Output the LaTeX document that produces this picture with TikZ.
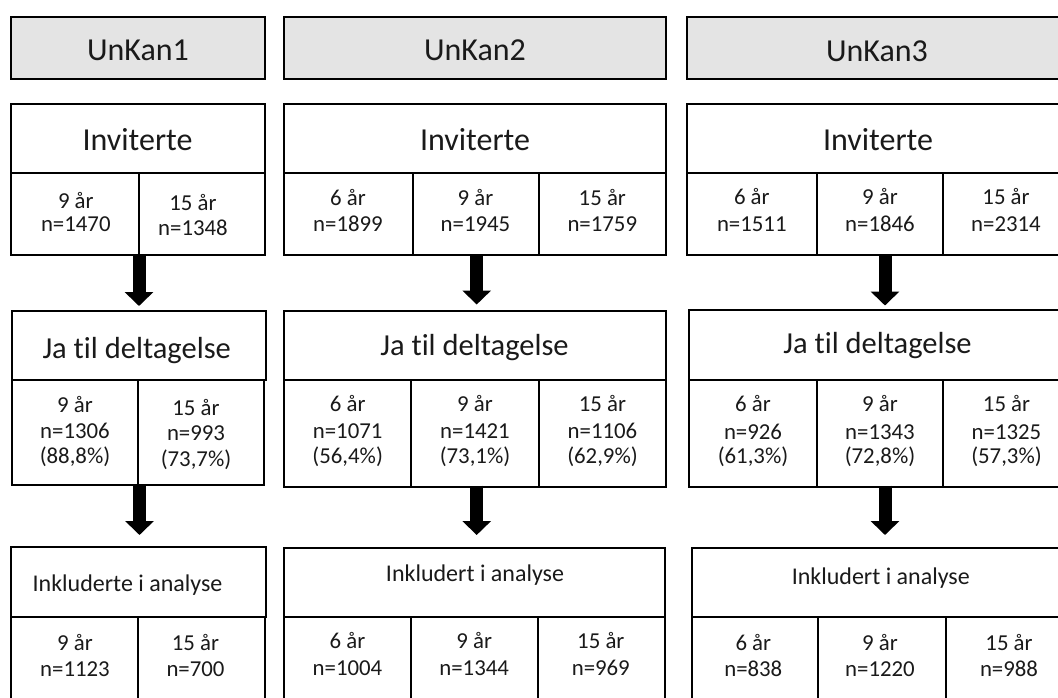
\documentclass[tikz,border=0pt]{standalone}
\usepackage{fontspec}
\setmainfont{Carlito}[Ligatures=NoCommon]
\usetikzlibrary{arrows.meta}
\definecolor{hdr}{RGB}{228,228,228}
\definecolor{ink}{RGB}{26,26,26}
\newcommand\rbox[6][]{\node[bx,#1,minimum width={(#5)-(#3)},minimum height={(#6)-(#4)}] (#2) at ({((#3)+(#5))/2},{((#4)+(#6))/2}) {};}
\newcommand\jatxt{Ja t\kern0pt il deltagelse}
\tikzset{
  bx/.style={draw=black,line width=2pt,inner sep=0pt,outer sep=0pt,fill=white},
  hbx/.style={fill=hdr},
  ht/.style={anchor=base,inner sep=0pt,text=ink,font=\fontsize{32}{38}\selectfont},
  tt/.style={anchor=base,inner sep=0pt,text=ink,font=\fontsize{32}{38}\selectfont},
  jt/.style={anchor=base,inner sep=0pt,text=ink,font=\fontsize{30.5}{36}\selectfont},
  it/.style={anchor=base,inner sep=0pt,text=ink,font=\fontsize{24}{28}\selectfont},
  ct/.style={anchor=base,inner sep=0pt,text=ink,font=\fontsize{22.8}{27}\selectfont},
  bigarrow/.style={draw=black,line width=13pt,-{Triangle[width=28pt,length=14pt]}}
}
\begin{document}
\begin{tikzpicture}[x=1pt,y=-1pt]
\useasboundingbox (0,0) rectangle (1058,697);
% headers
\rbox[hbx]{h1}{11}{17}{265}{79}
\rbox[hbx]{h2}{284}{17}{666}{79}
\rbox[hbx]{h3}{687}{17}{1069}{79}
\node[ht] (h1t) at (138,60.7) {UnKan1};
\node[ht] (h2t) at (475,60.7) {UnKan2};
\node[ht] (h3t) at (877,61.2) {UnKan3};
% Inviterte
\rbox{i1t}{11}{104}{265}{173}
\rbox{i1a}{11}{173}{139}{255}
\rbox{i1b}{139}{173}{265}{255}
\rbox{i2t}{284}{104}{666}{173}
\rbox{i2a}{284}{173}{412.7}{255}
\rbox{i2b}{412.7}{173}{539.3}{255}
\rbox{i2c}{539.3}{173}{666}{255}
\rbox{i3t}{687}{104}{1069}{173}
\rbox{i3a}{687}{173}{816.7}{255}
\rbox{i3b}{816.7}{173}{943.3}{255}
\rbox{i3c}{943.3}{173}{1069}{255}
\node[tt] (i1l) at (137.5,150) {Inviterte};
\node[tt] (i2l) at (475,150) {Inviterte};
\node[tt] (i3l) at (878,150.5) {Inviterte};
\node[ct] (i1a1) at (75.8,208.3) {9 år};
\node[ct] (i1a2) at (75.8,231.7) {n=1470};
\node[ct] (i1b1) at (193,210.7) {15 år};
\node[ct] (i1b2) at (193,235) {n=1348};
\node[ct] (i2a1) at (348,205.5) {6 år};
\node[ct] (i2a2) at (348,231.5) {n=1899};
\node[ct] (i2b1) at (475.5,205.5) {9 år};
\node[ct] (i2b2) at (475.5,231.5) {n=1945};
\node[ct] (i2c1) at (602.3,205.5) {15 år};
\node[ct] (i2c2) at (602.3,231.5) {n=1759};
\node[ct] (i3a1) at (751.8,204.5) {6 år};
\node[ct] (i3a2) at (751.8,231.5) {n=1511};
\node[ct] (i3b1) at (880,204.5) {9 år};
\node[ct] (i3b2) at (880,231.5) {n=1846};
\node[ct] (i3c1) at (1006,204.5) {15 år};
\node[ct] (i3c2) at (1006,231.5) {n=2314};
% Ja til deltagelse
\rbox{j1t}{11.5}{310.5}{265.5}{380}
\rbox{j1a}{11.5}{380}{137.7}{485}
\rbox{j1b}{137.7}{380}{263.5}{485}
\rbox{j2t}{284}{310.7}{666}{380}
\rbox{j2a}{284}{380}{411.3}{486.7}
\rbox{j2b}{411.3}{380}{539}{486.7}
\rbox{j2c}{539}{380}{666}{486.7}
\rbox{j3t}{689.3}{310}{1070}{379.5}
\rbox{j3a}{689.3}{379.5}{816.7}{486.7}
\rbox{j3b}{816.7}{379.5}{943.3}{486.7}
\rbox{j3c}{943.3}{379.5}{1070}{486.7}
\node[jt] (j1l) at (136.7,358) {\jatxt};
\node[jt] (j2l) at (474.5,355) {\jatxt};
\node[jt] (j3l) at (877.5,353.5) {\jatxt};
\node[ct] (j1a1) at (75,412.7) {9 år};
\node[ct] (j1a2) at (75,438.3) {n=1306};
\node[ct] (j1a3) at (75,463.3) {(88,8\%)};
\node[ct] (j1b1) at (196,415) {15 år};
\node[ct] (j1b2) at (196,440.5) {n=993};
\node[ct] (j1b3) at (196,466.5) {(73,7\%)};
\node[ct] (j2a1) at (347.7,411.7) {6 år};
\node[ct] (j2a2) at (347.7,438) {n=1071};
\node[ct] (j2a3) at (347.7,463) {(56,4\%)};
\node[ct] (j2b1) at (475,411.7) {9 år};
\node[ct] (j2b2) at (475,438) {n=1421};
\node[ct] (j2b3) at (475,463) {(73,1\%)};
\node[ct] (j2c1) at (602.5,411.7) {15 år};
\node[ct] (j2c2) at (602.5,438) {n=1106};
\node[ct] (j2c3) at (602.5,463) {(62,9\%)};
\node[ct] (j3a1) at (753,411.7) {6 år};
\node[ct] (j3a2) at (753,439) {n=926};
\node[ct] (j3a3) at (753,463) {(61,3\%)};
\node[ct] (j3b1) at (880,411.7) {9 år};
\node[ct] (j3b2) at (880,439) {n=1343};
\node[ct] (j3b3) at (880,463) {(72,8\%)};
\node[ct] (j3c1) at (1006.5,411.7) {15 år};
\node[ct] (j3c2) at (1006.5,439) {n=1325};
\node[ct] (j3c3) at (1006.5,463) {(57,3\%)};
% Inkludert i analyse
\rbox{k1t}{11}{547.3}{265.5}{616.7}
\rbox{k1a}{11}{616.7}{137.7}{712}
\rbox{k1b}{137.7}{616.7}{264.5}{712}
\rbox{k2t}{284}{548.3}{665}{616.7}
\rbox{k2a}{284}{616.7}{410.7}{712}
\rbox{k2b}{410.7}{616.7}{538.3}{712}
\rbox{k2c}{538.3}{616.7}{665}{712}
\rbox{k3t}{691.7}{548}{1072}{616.7}
\rbox{k3a}{691.7}{616.7}{817.7}{712}
\rbox{k3b}{817.7}{616.7}{945.7}{712}
\rbox{k3c}{945.7}{616.7}{1072}{712}
\node[it] (k1l) at (127.5,591.7) {Inkluderte i analyse};
\node[it] (k2l) at (475,581.7) {Inkludert i analyse};
\node[it] (k3l) at (880.8,584) {Inkludert i analyse};
\node[ct] (k1a1) at (75,650) {9 år};
\node[ct] (k1a2) at (75,676) {n=1123};
\node[ct] (k1b1) at (195.5,650) {15 år};
\node[ct] (k1b2) at (195.5,676) {n=700};
\node[ct] (k2a1) at (347.5,648.3) {6 år};
\node[ct] (k2a2) at (347.5,675) {n=1004};
\node[ct] (k2b1) at (474.2,648.3) {9 år};
\node[ct] (k2b2) at (474.2,675) {n=1344};
\node[ct] (k2c1) at (600.8,648.3) {15 år};
\node[ct] (k2c2) at (600.8,675) {n=969};
\node[ct] (k3a1) at (753.3,650) {6 år};
\node[ct] (k3a2) at (753.3,676.7) {n=838};
\node[ct] (k3b1) at (880,650) {9 år};
\node[ct] (k3b2) at (880,676.7) {n=1220};
\node[ct] (k3c1) at (1009,650) {15 år};
\node[ct] (k3c2) at (1009,676.7) {n=988};
% arrows
\coordinate (a1s) at (139,254);
\coordinate (a1e) at (139,306);
\coordinate (a2s) at (139.5,484);
\coordinate (a2e) at (139.5,535);
\coordinate (b1s) at (476.7,254);
\coordinate (b1e) at (476.7,304.5);
\coordinate (b2s) at (476.7,485.7);
\coordinate (b2e) at (476.7,535);
\coordinate (c1s) at (885,254);
\coordinate (c1e) at (885,305.5);
\coordinate (c2s) at (885,485.7);
\coordinate (c2e) at (885,535);
\draw[bigarrow] (a1s) -- (a1e);
\draw[bigarrow] (a2s) -- (a2e);
\draw[bigarrow] (b1s) -- (b1e);
\draw[bigarrow] (b2s) -- (b2e);
\draw[bigarrow] (c1s) -- (c1e);
\draw[bigarrow] (c2s) -- (c2e);
\end{tikzpicture}
\end{document}
